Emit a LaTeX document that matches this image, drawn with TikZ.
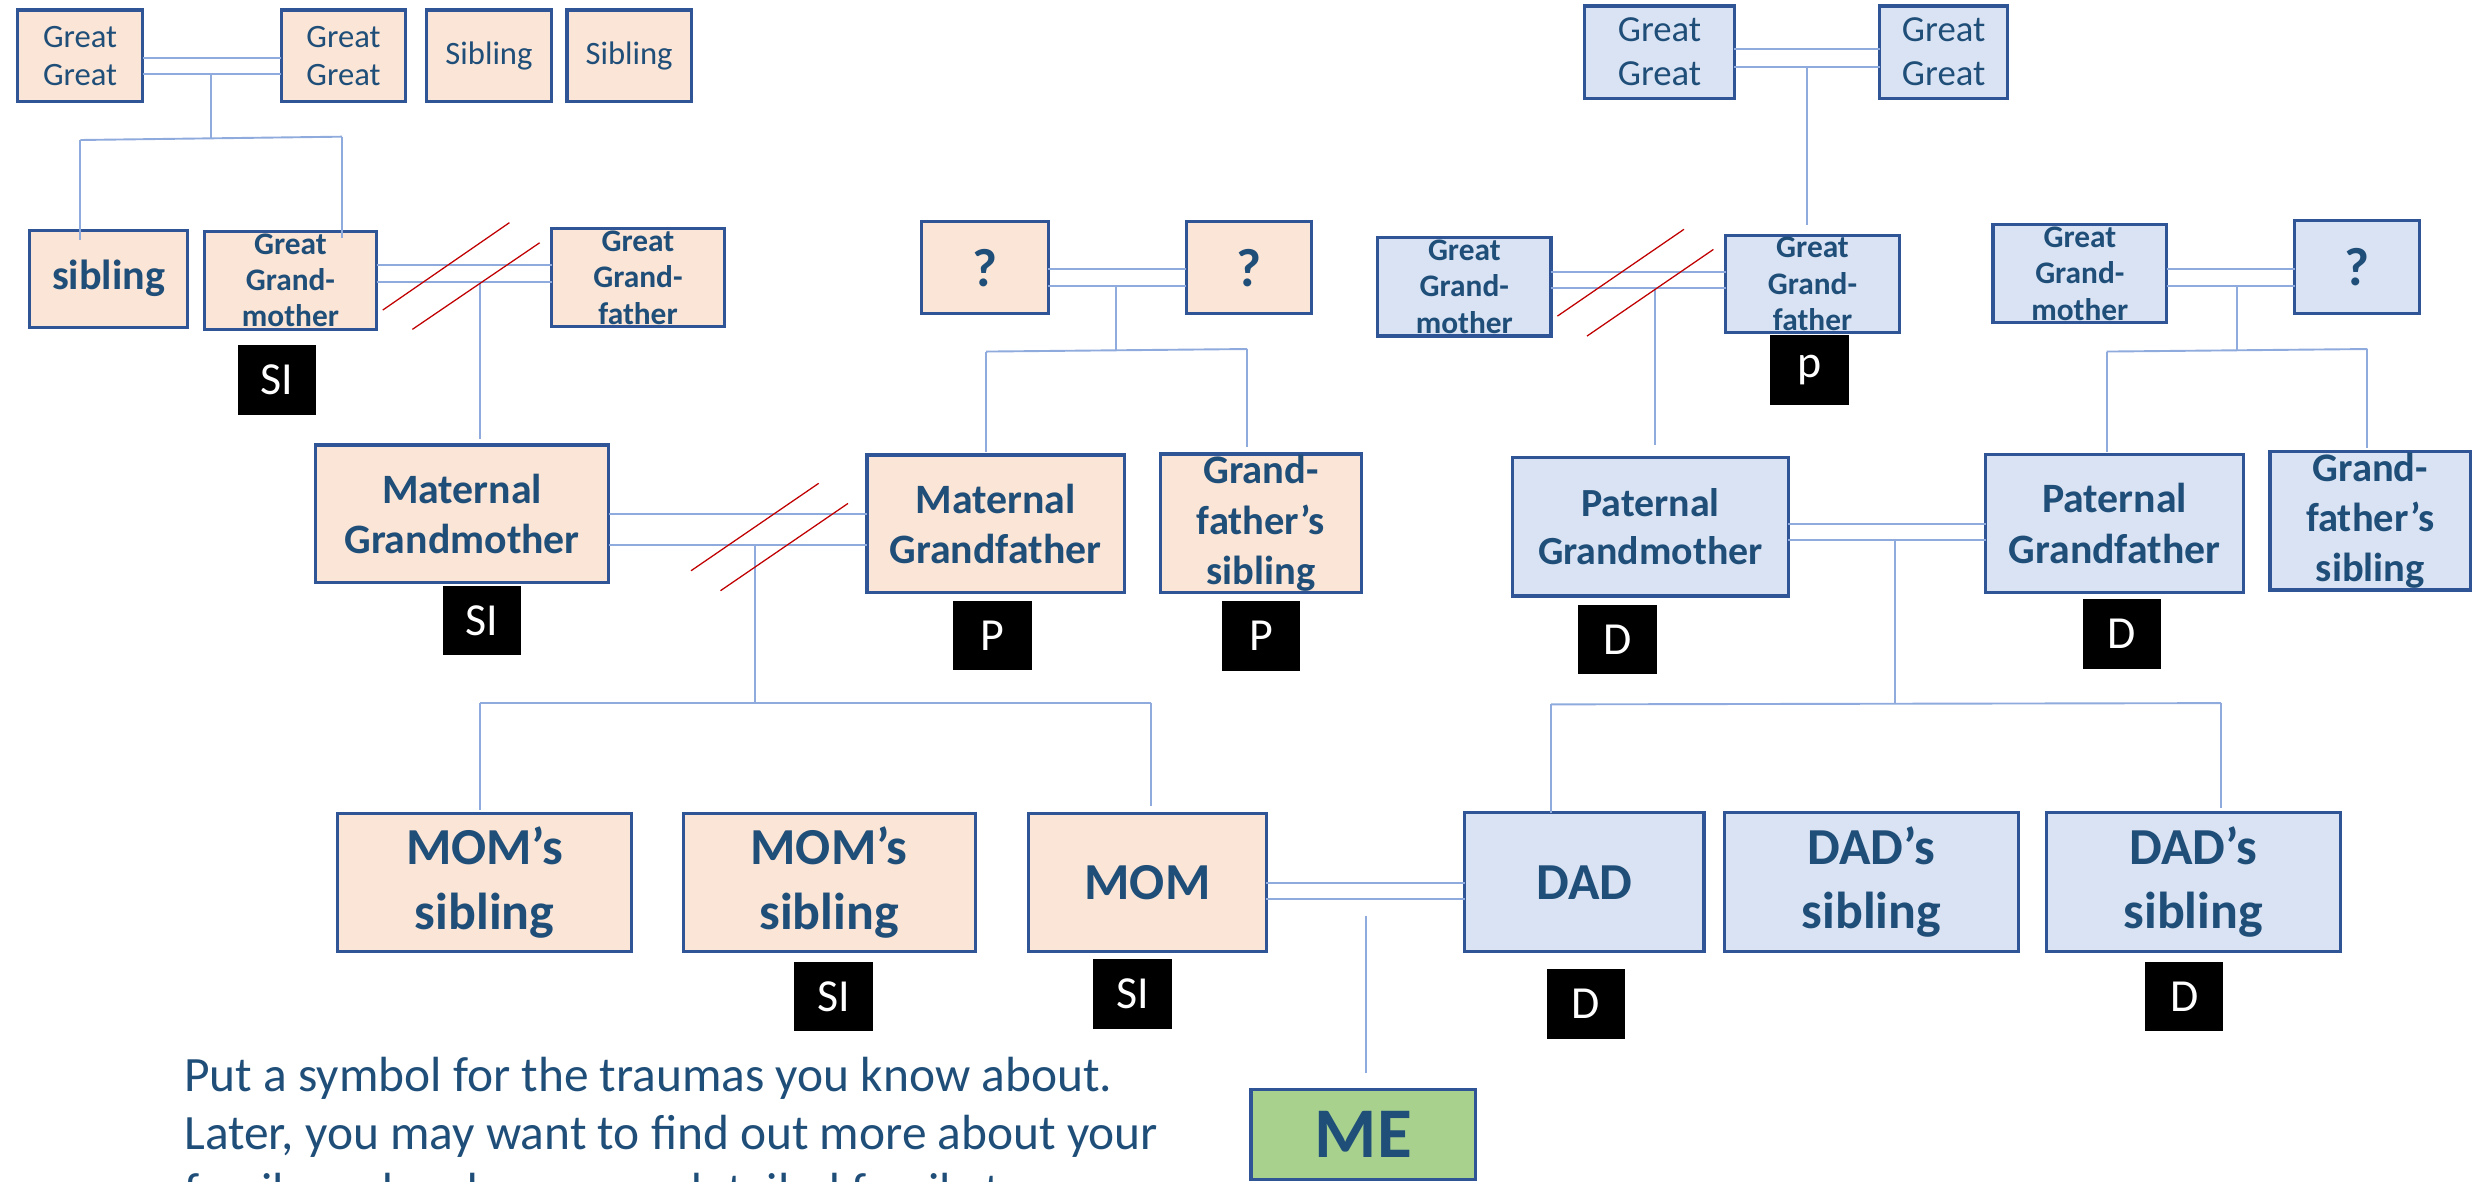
\documentclass[tikz,border=0pt]{standalone}
\usepackage{fontspec}
\setmainfont{Carlito}
\usepackage{tikz}

\definecolor{momfill}{HTML}{FBE5D6}
\definecolor{dadfill}{HTML}{DAE3F3}
\definecolor{mefill}{HTML}{A9D18E}
\definecolor{boxline}{HTML}{2F5597}
\definecolor{linkline}{HTML}{8FAADC}
\definecolor{namec}{HTML}{1F4E79}
\definecolor{cutred}{HTML}{C00000}

\begin{document}
\begin{tikzpicture}[x=0.5pt, y=-0.5pt]
    \tikzset{
        box/.style      =   { draw=boxline
                            , line width=1pt
                            , inner sep=0pt
                            , outer sep=0pt
                            }
        , mom/.style    =   { box, fill=momfill }
        , dad/.style    =   { box, fill=dadfill }
        , me/.style     =   { box, fill=mefill }
        , boxsize/.style 2 args = { minimum width=#1, minimum height=#2 }
        , who/.style    =   { align=center
                            , text=namec
                            , inner sep=0pt
                            }
        , tag/.style    =   { fill=black
                            , text=white
                            , inner sep=0pt
                            , minimum width=24.8pt
                            , minimum height=22pt
                            , font=\fontsize{14.5}{16}\selectfont
                            }
        , link/.style   =   { draw=linkline, line width=0.6pt }
        , cut/.style    =   { draw=cutred, line width=0.4pt }
        , ftop/.style   =   { font=\fontsize{10.3}{11.8}\selectfont }
        , ftopr/.style  =   { font=\fontsize{11.6}{13.9}\selectfont }
        , fsib/.style   =   { font=\bfseries\fontsize{13.3}{15}\selectfont }
        , fgreat/.style =   { font=\bfseries\fontsize{9.9}{11.5}\selectfont }
        , fq/.style     =   { font=\bfseries\fontsize{17}{20}\selectfont }
        , fgrand/.style =   { font=\bfseries\fontsize{13.2}{16}\selectfont }
        , fpat/.style   =   { font=\bfseries\fontsize{12.6}{15}\selectfont }
        , fgfs/.style   =   { font=\bfseries\fontsize{12.8}{15.9}\selectfont }
        , fkid/.style   =   { font=\bfseries\fontsize{16.4}{20.3}\selectfont }
        , fme/.style    =   { font=\bfseries\fontsize{22.5}{26}\selectfont }
    }
    \useasboundingbox (0,0) rectangle (1568,746);
    \clip (0,0) rectangle (1568,746);

    \node(1)[mom, boxsize={39.4pt}{29pt}, label={[who,ftop]center:Great\\Great}] at (50.6,35.3) {};
    \node(2)[mom, boxsize={39.3pt}{29pt}, label={[who,ftop]center:Great\\Great}] at (216.9,35.3) {};
    \node(3)[mom, boxsize={39.3pt}{29pt}, label={[who,ftop]center:Sibling}] at (308.8,35.3) {};
    \node(4)[mom, boxsize={39.3pt}{29pt}, label={[who,ftop]center:Sibling}] at (397.3,35.3) {};
    \node(5)[mom, boxsize={49.9pt}{30.7pt}, label={[who,fsib]center:sibling}] at (68.6,176) {};
    \node(6)[mom, boxsize={54.4pt}{31pt}, label={[who,fgreat]center:Great\\Grand-\\mother}] at (183.4,177) {};
    \node(7)[mom, boxsize={54.6pt}{31pt}, label={[who,fgreat]center:Great\\Grand-\\father}] at (402.9,175.4) {};
    \node(8)[mom, boxsize={40pt}{29pt}, label={[who,fq]center:?}] at (622,169) {};
    \node(9)[mom, boxsize={39.5pt}{29pt}, label={[who,fq]center:?}] at (788.5,169) {};
    \node(10)[mom, boxsize={92.7pt}{43.5pt}, label={[who,fgrand]center:Maternal\\Grandmother}] at (291.8,324.5) {};
    \node(11)[mom, boxsize={81.2pt}{43.5pt}, label={[who,fgrand]center:Maternal\\Grandfather}] at (628.7,330.8) {};
    \node(12)[mom, boxsize={63.7pt}{43.8pt}, label={[who,fgfs]center:Grand-\\father’s\\sibling}] at (796.3,330.5) {};
    \node(13)[mom, boxsize={92.8pt}{43.8pt}, label={[who,fkid]center:MOM’s\\sibling}] at (306,557.3) {};
    \node(14)[mom, boxsize={92.2pt}{43.8pt}, label={[who,fkid]center:MOM’s\\sibling}] at (523.6,557.3) {};
    \node(15)[mom, boxsize={75pt}{43.8pt}, label={[who,fkid]center:MOM}] at (724.6,557.3) {};

    \node(16)[dad, boxsize={47.3pt}{29.1pt}, label={[who,ftopr]center:Great\\Great}] at (1048,32.9) {};
    \node(17)[dad, boxsize={40.4pt}{29.1pt}, label={[who,ftopr]center:Great\\Great}] at (1227.4,32.9) {};
    \node(18)[dad, boxsize={54.7pt}{31.1pt}, label={[who,fgreat]center:Great\\Grand-\\mother}] at (924.7,181.1) {};
    \node(19)[dad, boxsize={54.8pt}{30.7pt}, label={[who,fgreat]center:Great\\Grand-\\father}] at (1144.6,179.3) {};
    \node(20)[dad, boxsize={54.8pt}{30.9pt}, label={[who,fgreat]center:Great\\Grand-\\mother}] at (1313.4,172.9) {};
    \node(21)[dad, boxsize={39.5pt}{29.3pt}, label={[who,fq]center:?}] at (1488.5,168.7) {};
    \node(22)[dad, boxsize={87pt}{43.7pt}, label={[who,fpat]center:Paternal\\Grandmother}] at (1042.2,332.7) {};
    \node(23)[dad, boxsize={81.4pt}{43.7pt}, label={[who,fgrand]center:Paternal\\Grandfather}] at (1335.4,330.7) {};
    \node(24)[dad, boxsize={63.3pt}{43.7pt}, label={[who,fgfs]center:Grand-\\father’s\\sibling}] at (1496.8,328.9) {};
    \node(25)[dad, boxsize={75.5pt}{43.9pt}, label={[who,fkid]center:DAD}] at (1000.5,557.1) {};
    \node(26)[dad, boxsize={92.7pt}{43.9pt}, label={[who,fkid]center:DAD’s\\sibling}] at (1181.7,557.1) {};
    \node(27)[dad, boxsize={92.8pt}{43.9pt}, label={[who,fkid]center:DAD’s\\sibling}] at (1385,557.1) {};

    \node(28)[me, boxsize={70.9pt}{28.5pt}, label={[who,fme]center:ME}] at (860.9,716.5) {};

    \node(b1)[tag] at (174.9,239.8) {SI};
    \node(b2)[tag] at (304.5,391.8) {SI};
    \node(b3)[tag] at (626.8,401.3) {P};
    \node(b4)[tag] at (796.3,401.5) {P};
    \node(b5)[tag] at (1142.7,233.8) {p};
    \node(b6)[tag] at (1021.5,403.9) {D};
    \node(b7)[tag] at (1339.9,400.2) {D};
    \node(b8)[tag] at (526.3,629.3) {SI};
    \node(b9)[tag] at (715.2,627.5) {SI};
    \node(b10)[tag] at (1001.5,633.9) {D};
    \node(b11)[tag] at (1379.3,629.2) {D};

    \node(note)[who, anchor=north west, align=left, font=\fontsize{15.6}{18.3}\selectfont] at (116,667)
        {Put a symbol for the traumas you know about.\\Later, you may want to find out more about your\\family and make a more detailed family tree.};

    \draw[link] (1.east |- 0,36.4) -- (2.west |- 0,36.4);
    \draw[link] (1.east |- 0,46.7) -- (2.west |- 0,46.7);
    \draw[link] (6.east |- 0,167.4) -- (7.west |- 0,167.4);
    \draw[link] (6.east |- 0,177.9) -- (7.west |- 0,177.9);
    \draw[link] (8.east |- 0,169.9) -- (9.west |- 0,169.9);
    \draw[link] (8.east |- 0,180.4) -- (9.west |- 0,180.4);
    \draw[link] (10.east |- 0,324.5) -- (11.west |- 0,324.5);
    \draw[link] (10.east |- 0,344.2) -- (11.west |- 0,344.2);
    \draw[link] (15.east |- 0,557.4) -- (25.west |- 0,557.4);
    \draw[link] (15.east |- 0,567.7) -- (25.west |- 0,567.7);
    \draw[link] (16.east |- 0,31.1) -- (17.west |- 0,31.1);
    \draw[link] (16.east |- 0,42.1) -- (17.west |- 0,42.1);
    \draw[link] (18.east |- 0,171.6) -- (19.west |- 0,171.6);
    \draw[link] (18.east |- 0,182) -- (19.west |- 0,182);
    \draw[link] (20.east |- 0,169.9) -- (21.west |- 0,169.9);
    \draw[link] (20.east |- 0,180.6) -- (21.west |- 0,180.6);
    \draw[link] (22.east |- 0,330.7) -- (23.west |- 0,330.7);
    \draw[link] (22.east |- 0,341.2) -- (23.west |- 0,341.2);

    \coordinate (m1) at (133,46.7);
    \coordinate (k1) at (133,87.3);
    \coordinate (l1) at (50.8,88.4);
    \coordinate (r1) at (216,86.3);
    \coordinate (m2) at (303,177.9);
    \coordinate (m3) at (704.8,180.4);
    \coordinate (k3) at (704.8,221.2);
    \coordinate (l3) at (622.8,222);
    \coordinate (r3) at (787.5,220.4);
    \coordinate (m4) at (476.5,344.2);
    \coordinate (k4) at (476.5,443.8);
    \coordinate (l4) at (303,443.8);
    \coordinate (r4) at (727,443.8);
    \coordinate (m5) at (1141.3,42.1);
    \coordinate (m6) at (1045,182);
    \coordinate (m7) at (1412.9,180.6);
    \coordinate (k7) at (1412.9,221.2);
    \coordinate (l7) at (1330.3,222);
    \coordinate (r7) at (1495,220.4);
    \coordinate (m8) at (1196.4,341.2);
    \coordinate (k8) at (1196.4,444.4);
    \coordinate (l8) at (979.5,444.8);
    \coordinate (r8) at (1402.5,444);
    \coordinate (m9) at (862.4,567.7);

    \draw[link] (m1) -- (k1);
    \draw[link] (l1) -- (r1);
    \draw[link, shorten >=-3pt] (l1) -- (l1 |- 5.north);
    \draw[link, shorten >=-2pt] (r1) -- (r1 |- 6.north);
    \draw[link, shorten >=2pt] (m2) -- (m2 |- 10.north);
    \draw[link] (m3) -- (k3);
    \draw[link] (l3) -- (r3);
    \draw[link, shorten >=1pt] (l3) -- (l3 |- 11.north);
    \draw[link, shorten >=2.3pt] (r3) -- (r3 |- 12.north);
    \draw[link] (m4) -- (k4);
    \draw[link] (l4) -- (r4);
    \draw[link, shorten >=1pt] (l4) -- (l4 |- 13.north);
    \draw[link, shorten >=2.3pt] (r4) -- (r4 |- 15.north);
    \draw[link, shorten >=3.3pt] (m5) -- (m5 |- 19.north);
    \draw[link, shorten >=4pt] (m6) -- (m6 |- 22.north);
    \draw[link] (m7) -- (k7);
    \draw[link] (l7) -- (r7);
    \draw[link, shorten >=0.7pt] (l7) -- (l7 |- 23.north);
    \draw[link, shorten >=1.2pt] (r7) -- (r7 |- 24.north);
    \draw[link] (m8) -- (k8);
    \draw[link] (l8) -- (r8);
    \draw[link] (l8) -- (l8 |- 25.north);
    \draw[link, shorten >=1.4pt] (r8) -- (r8 |- 27.north);
    \draw[link, shorten <=5.4pt, shorten >=5.3pt] (m9) -- (m9 |- 28.north);

    \draw[cut] (241.7,195.8) -- (321.7,140.6);
    \draw[cut] (260.4,208) -- (340.8,153.3);
    \draw[cut] (436.4,360.4) -- (517,305.2);
    \draw[cut] (455,373) -- (535.5,317.9);
    \draw[cut] (983.5,199.6) -- (1063.4,144.8);
    \draw[cut] (1002.2,212.2) -- (1082,157.5);
\end{tikzpicture}
\end{document}
